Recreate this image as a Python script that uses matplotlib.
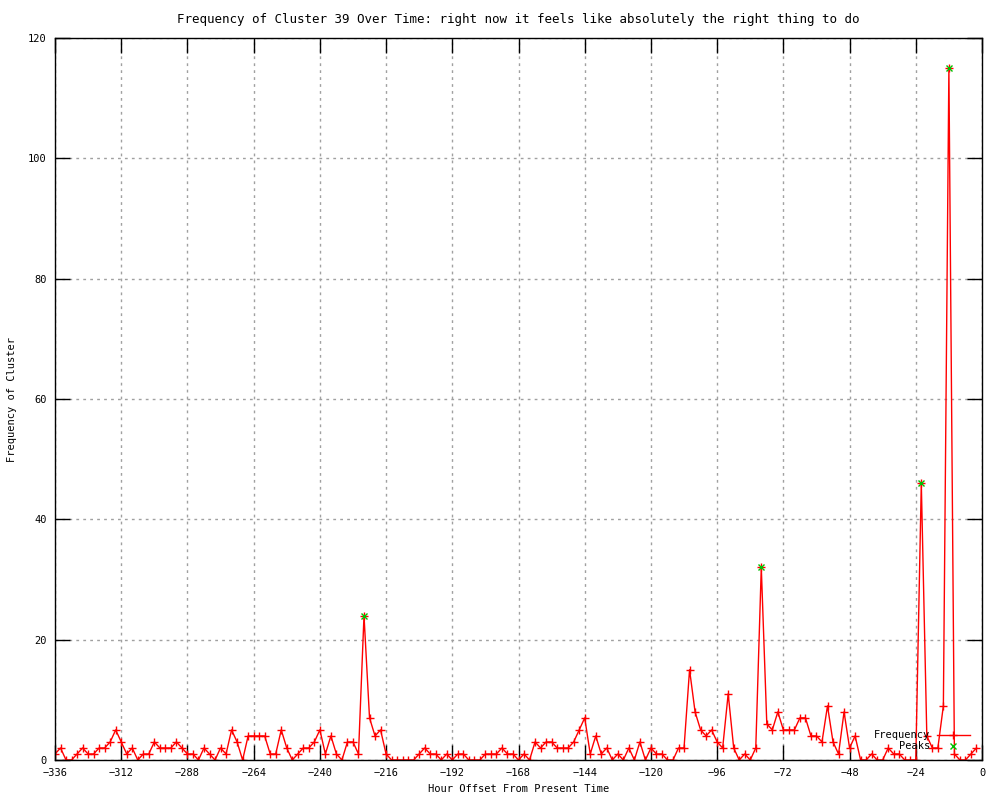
"""Frequency of cluster 39 over time (gnuplot-style look)"""
import numpy as np
import matplotlib
matplotlib.use('Agg')
import matplotlib.pyplot as plt

# hour offsets, every 2 hours from -336 to -2
hours = list(range(-336, 0, 2))
freq = [1, 2, 0, 0, 1, 2, 1, 1, 2, 2, 3, 5, 3, 1, 2, 0, 1, 1, 3, 2,
        2, 2, 3, 2, 1, 1, 0, 2, 1, 0, 2, 1, 5, 3, 0, 4, 4, 4, 4, 1,
        1, 5, 2, 0, 1, 2, 2, 3, 5, 1, 4, 1, 0, 3, 3, 1, 24, 7, 4, 5,
        1, 0, 0, 0, 0, 0, 1, 2, 1, 1, 0, 1, 0, 1, 1, 0, 0, 0, 1, 1,
        1, 2, 1, 1, 0, 1, 0, 3, 2, 3, 3, 2, 2, 2, 3, 5, 7, 1, 4, 1,
        2, 0, 1, 0, 2, 0, 3, 0, 2, 1, 1, 0, 0, 2, 2, 15, 8, 5, 4, 5,
        3, 2, 11, 2, 0, 1, 0, 2, 32, 6, 5, 8, 5, 5, 5, 7, 7, 4, 4, 3,
        9, 3, 1, 8, 2, 4, 0, 0, 1, 0, 0, 2, 1, 1, 0, 0, 0, 46, 4, 2,
        2, 9, 115, 1, 0, 0, 1, 2]

peak_hours = [-224, -80, -22, -12]
peak_vals = [24, 32, 46, 115]

title = 'Frequency of Cluster 39 Over Time: right now it feels like absolutely the right thing to do'

plt.rcParams['font.family'] = ['DejaVu Sans Mono']
plt.rcParams['font.size'] = 7.5

fig = plt.figure(figsize=(10, 8), dpi=100)
ax = fig.add_axes([0.055, 0.05, 0.927, 0.9025])

ax.plot(hours, freq, color='red', lw=1, marker='+', ms=5.5, mew=1,
        label='Frequency')
ax.plot(peak_hours, peak_vals, ls='none', color='#00c000', marker='x',
        ms=5, mew=1, label='Peaks')

ax.set_xlim(-336, 0)
ax.set_ylim(0, 120)
ax.set_xticks(np.arange(-336, 1, 24))
ax.set_yticks(np.arange(0, 121, 20))
ax.grid(True, color='#a0a0a0', ls=(0, (2, 3)), lw=1)
ax.tick_params(direction='in', length=11, width=1, top=True, right=True,
               pad=6)
for s in ax.spines.values():
    s.set_linewidth(1)

ax.set_xlabel('Hour Offset From Present Time', labelpad=4)
ax.set_ylabel('Frequency of Cluster', labelpad=8)
ax.set_title(title, pad=11)

ax.legend(loc='lower right', bbox_to_anchor=(0.995, 0.002), frameon=False,
          markerfirst=False, handlelength=3.2, handletextpad=0.6,
          labelspacing=0.1, borderpad=0.2)

plt.savefig('out.png', dpi=100)
